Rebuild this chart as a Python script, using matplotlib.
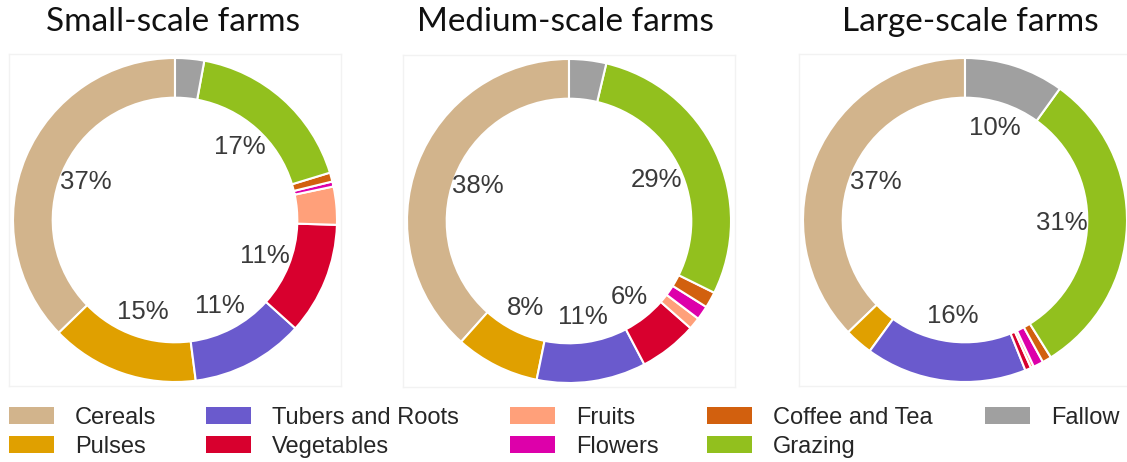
import matplotlib
matplotlib.use("Agg")
import matplotlib.pyplot as plt
from matplotlib.patches import Patch

categories = ["Cereals", "Pulses", "Tubers and Roots", "Vegetables", "Fruits",
              "Flowers", "Coffee and Tea", "Grazing", "Fallow"]
small_farms = [37.3, 14.8, 11.3, 11.2, 3.8, 0.5, 0.9, 17.4, 2.9]
medium_farms = [38.4, 8.4, 10.9, 5.8, 1.2, 1.4, 1.6, 28.6, 3.7]
large_farms = [37.0, 2.8, 16.0, 0.6, 0.3, 1.0, 0.9, 31.0, 9.9]
titles = ["Small-scale farms", "Medium-scale farms", "Large-scale farms"]
colors = ["#D2B48C", "#E0A000", "#6A5ACD", "#D8002E", "#FFA07A",
          "#DD00AA", "#D2600E", "#92C01E", "#A0A0A0"]

W, H = 1127, 462
fig = plt.figure(figsize=(W / 100, H / 100), dpi=100)
fig.patch.set_facecolor("white")

centers = [(175, 220), (569, 221), (965, 220)]
title_x = [173, 565, 970]
R = 162
half = 166

for vals, title, (cx, cy), tx in zip([small_farms, medium_farms, large_farms],
                                     titles, centers, title_x):
    ax = fig.add_axes([(cx - half) / W, 1 - (cy + half) / H, 2 * half / W, 2 * half / H])
    ax.pie(vals, colors=colors, startangle=90, counterclock=True, radius=1,
           wedgeprops=dict(width=0.245, edgecolor="white", linewidth=1.5),
           autopct=lambda p: f"{p:.0f}%" if p >= 5 else "",
           pctdistance=0.6,
           textprops=dict(family="Liberation Sans", fontsize=18.5, color="#3a3a3a"))
    lim = half / R
    ax.set_xlim(-lim, lim)
    ax.set_ylim(-lim, lim)
    ax.set_aspect("equal")
    ax.set_frame_on(True)
    for s in ax.spines.values():
        s.set_color("#F2F2F2")
        s.set_linewidth(1)
    ax.set_xticks([])
    ax.set_yticks([])
    fig.text(tx / W, 1 - 22 / H, title, ha="center", va="center",
             family="Lato", fontsize=24, color="#111111")

handles = [Patch(facecolor=c, edgecolor="none", label=l) for c, l in zip(colors, categories)]
col_x = [9, 206, 510, 707, 985]
groups = [[0, 1], [2, 3], [4, 5], [6, 7], [8]]
for x, g in zip(col_x, groups):
    leg = fig.legend(handles=[handles[i] for i in g], loc="upper left",
                     bbox_to_anchor=(x / W, 1 - 407 / H), frameon=False,
                     borderpad=0, borderaxespad=0,
                     prop=dict(family="Liberation Sans", size=17),
                     handlelength=1.9, handleheight=0.72, handletextpad=0.9,
                     labelspacing=0.3, labelcolor="#262626")

fig.savefig("out.png", dpi=100)
